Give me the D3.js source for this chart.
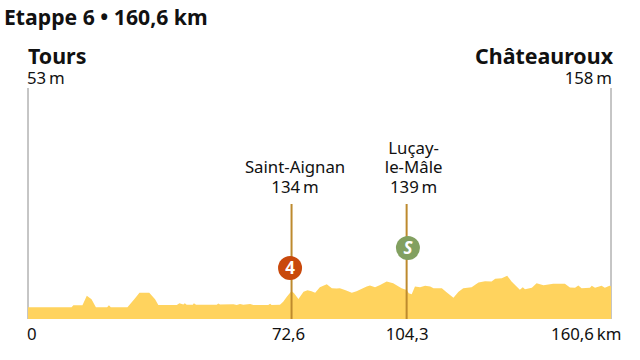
<!DOCTYPE html>
<html>
<head>
<meta charset="utf-8">
<script src="https://cdn.jsdelivr.net/npm/d3@7"></script>
<style>
  html, body { margin: 0; padding: 0; background: #fff; }
  svg { display: block; }
  text { font-family: "Noto Sans", sans-serif; fill: #111; }
  .title { font-weight: 700; font-size: 21.2px; }
  .head { font-weight: 700; font-size: 21.4px; }
  .lab { font-size: 16.8px; word-spacing: -1.5px; }
</style>
</head>
<body>
<svg width="640" height="360"></svg>
<script>
const kms = [0,12,12.5,15,16.2,17.5,18.7,21.8,22.3,22.8,27.4,29.5,30.7,33.4,35,35.9,41,41.7,42.8,43.2,43.7,45.4,45.7,46.3,52,52.4,52.9,56.6,57.5,58.4,59.3,61.2,62.1,66.2,66.7,67.1,69.4,70.3,71.3,72.6,73.3,74.5,75.9,77,78.1,79.1,80.4,82.3,83.7,85,85.9,87.3,89.2,90.5,93.3,94.2,95.6,97,98.8,100.6,102.9,104.3,104.9,105.7,106.6,108,109.4,110.8,111.7,114,115.3,117.2,118.6,119.9,122.2,124.1,125.9,127.7,128.7,130.5,132,133.2,135.5,136.3,136.9,138.8,140.1,142,144.7,147.9,149.3,150.7,151.6,152.5,154.8,155.3,156.2,158,158.9,160.2,160.6];
const elevations = [53,53,63,63,110,93,53,53,63,53,53,98,126,126,93,65,65,73,67,73,66,66,73,66,66,72,67,68,65,70,66,70,65,65,71,65,66,81,106,134,123,94,131,138,133,126,153,168,148,146,148,139,126,133,156,161,153,164,181,173,148,139,123,118,156,153,160,156,148,148,128,101,131,148,153,176,183,181,195,198,210,181,140,153,143,150,173,163,170,170,151,150,161,148,150,160,150,160,150,160,158];

const startEnd = [
  { name: 'Tours', alt: '53 m', km: 0, anchor: 'start' },
  { name: 'Châteauroux', alt: '158 m', km: 160.6, anchor: 'end' }
];
const climbs = [
  { lines: ['Saint-Aignan', '134 m'], km: 72.6, badge: '4', color: '#c9490c', level: 248 },
  { lines: ['Luçay-', 'le-Mâle', '139 m'], km: 104.3, badge: 'S', color: '#82a060', level: 348 }
];
const tickKms = [0, 72.6, 104.3, 160.6];
const tickLabels = ['0', '72,6', '104,3', '160,6 km'];

const svg = d3.select('svg');
const x = d3.scaleLinear().domain([0, 160.6]).range([28, 611]);
const y = d3.scaleLinear().domain([0, 158]).range([318, 286.2]);
const floor = 319;

svg.append('text').attr('class', 'title').attr('x', 4).attr('y', 24.5).text('Etappe 6 • 160,6 km');

// grey end lines
svg.selectAll('.end').data(startEnd).enter().append('line')
  .attr('x1', d => x(d.km)).attr('x2', d => x(d.km))
  .attr('y1', 88).attr('y2', floor)
  .attr('stroke', '#8c8c8c').attr('stroke-width', 1);

const area = d3.area()
  .x(d => x(d[0]))
  .y0(floor)
  .y1(d => y(d[1]));
svg.append('path')
  .attr('d', area(d3.zip(kms, elevations)))
  .attr('fill', '#ffd35e');

// start / finish names
const ends = svg.selectAll('.place').data(startEnd).enter().append('g');
ends.append('text').attr('class', 'head')
  .attr('x', d => x(d.km) + (d.anchor === 'end' ? 2 : 0)).attr('y', 63.5)
  .attr('text-anchor', d => d.anchor).text(d => d.name);
ends.append('text').attr('class', 'lab')
  .attr('x', d => x(d.km) + (d.anchor === 'end' ? 1 : -1)).attr('y', 83.5)
  .attr('text-anchor', d => d.anchor).text(d => d.alt);

// climbs
const cl = svg.selectAll('.climb').data(climbs).enter().append('g');
cl.append('line')
  .attr('x1', d => x(d.km)).attr('x2', d => x(d.km))
  .attr('y1', 204).attr('y2', floor)
  .attr('stroke', '#bd8a2e').attr('stroke-width', 2);
cl.append('circle')
  .attr('cx', d => x(d.km) + (d.badge === 'S' ? 1.3 : -1.5)).attr('cy', d => y(d.level))
  .attr('r', 12).attr('fill', d => d.color);
cl.append('text')
  .attr('x', d => x(d.km) + (d.badge === 'S' ? 1.3 : -1.5)).attr('y', d => y(d.level) + 6)
  .attr('text-anchor', 'middle')
  .attr('font-size', 17).attr('font-weight', 700)
  .attr('font-style', d => d.badge === 'S' ? 'italic' : 'normal')
  .style('fill', '#fff').text(d => d.badge);
cl.each(function (d) {
  d3.select(this).selectAll('.lab').data(d.lines).enter().append('text')
    .attr('class', 'lab')
    .attr('x', x(d.km) + (d.badge === 'S' ? 7 : 3.5))
    .attr('y', (t, i) => 192.5 - (d.lines.length - 1 - i) * 19.5)
    .attr('text-anchor', 'middle')
    .text(t => t);
});

// km axis
const axis = d3.axisBottom(x)
  .tickValues(tickKms)
  .tickSize(0)
  .tickPadding(0)
  .tickFormat((d, i) => tickLabels[i]);
const ag = svg.append('g').attr('transform', `translate(0,${322})`).call(axis);
ag.select('.domain').remove();
ag.selectAll('text')
  .attr('font-family', null)
  .attr('font-size', null)
  .attr('class', 'lab')
  .attr('dy', null)
  .attr('y', 17.5)
  .attr('text-anchor', (d, i) => i === 0 ? 'start' : i === 3 ? 'end' : 'middle')
  .attr('dx', (d, i) => i === 3 ? 10 : i === 1 ? -3.5 : i === 0 ? -1.5 : 0);
</script>
</body>
</html>
